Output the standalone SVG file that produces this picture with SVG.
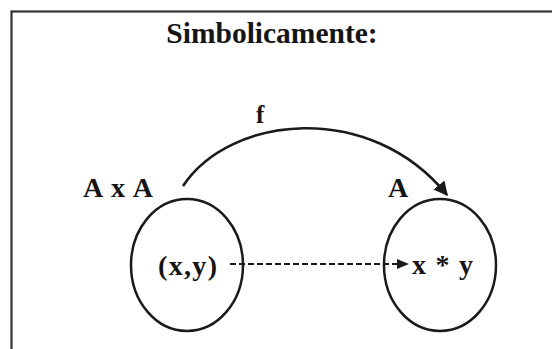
<svg xmlns="http://www.w3.org/2000/svg" width="552" height="349" viewBox="0 0 552 349">
  <style>
    .t { font-family: "Liberation Serif", "Times New Roman", serif; font-weight: bold; fill: #151515; }
    .set { fill: none; stroke: #1a1a1a; stroke-width: 2.5; }
    .conn { fill: none; stroke: #1a1a1a; }
  </style>
  <defs>
    <marker id="ah" viewBox="0 0 10 10" refX="9" refY="5" markerWidth="5.5" markerHeight="5.5" markerUnits="strokeWidth" orient="auto">
      <path d="M0,0 L10,5 L0,10 z" fill="#1a1a1a"/>
    </marker>
    <marker id="ah2" viewBox="0 0 10 10" refX="9" refY="5" markerWidth="7" markerHeight="7" markerUnits="strokeWidth" orient="auto">
      <path d="M0,1 L10,5 L0,9 z" fill="#1a1a1a"/>
    </marker>
  </defs>
  <rect width="552" height="349" fill="#ffffff"/>
  <rect x="11.5" y="11.5" width="580" height="380" fill="none" stroke="#333333" stroke-width="2.2"/>
  <text class="t" x="272" y="43" font-size="29.5" text-anchor="middle">Simbolicamente:</text>
  <g id="domain">
    <ellipse class="set" cx="187" cy="265" rx="56" ry="66"/>
    <text class="t" x="83" y="197" font-size="28" textLength="70">A x A</text>
    <text class="t" x="158" y="275" font-size="28" textLength="59">(x,y)</text>
  </g>
  <g id="codomain">
    <ellipse class="set" cx="440" cy="265" rx="56" ry="66"/>
    <text class="t" x="388" y="197" font-size="28">A</text>
    <text class="t" x="412" y="274" font-size="28" textLength="61">x * y</text>
  </g>
  <g id="connectors">
    <path class="conn" d="M183,186 C230,115 370,100 447,195" stroke-width="2.6" marker-end="url(#ah)"/>
    <text class="t" x="256" y="123" font-size="25">f</text>
    <path class="conn" d="M230,264 L408,264" stroke-width="1.8" stroke-dasharray="6,3" marker-end="url(#ah2)"/>
  </g>
</svg>
